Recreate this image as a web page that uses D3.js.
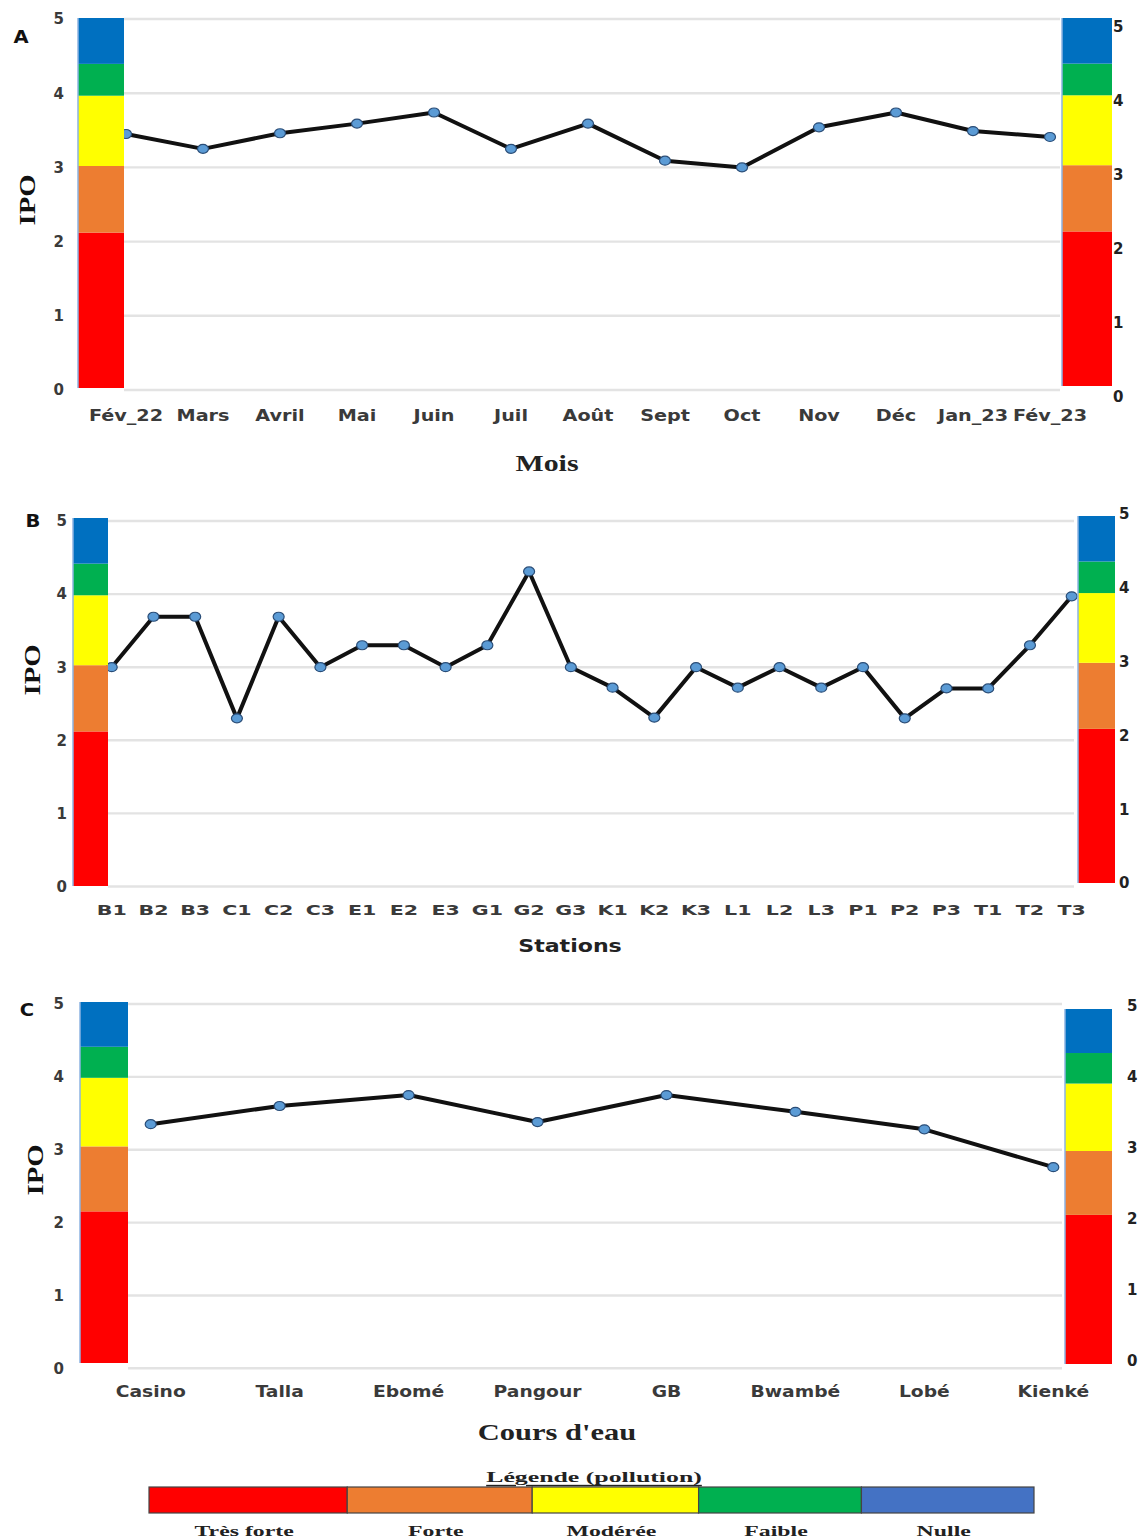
<!DOCTYPE html>
<html>
<head>
<meta charset="utf-8">
<script src="https://cdn.jsdelivr.net/npm/d3@7"></script>
<style>
  html, body { margin: 0; padding: 0; background: #fff; }
  svg { display: block; }
</style>
</head>
<body>
<svg id="chart" width="1142" height="1539"></svg>
<script>
// ---------- DATA ----------
const monthsA = ["Fév_22", "Mars", "Avril", "Mai", "Juin", "Juil", "Août", "Sept", "Oct", "Nov", "Déc", "Jan_23", "Fév_23"];
const ipoA = [3.45, 3.25, 3.46, 3.59, 3.74, 3.25, 3.59, 3.09, 3.0, 3.54, 3.74, 3.49, 3.41];

const stationsB = ["B1", "B2", "B3", "C1", "C2", "C3", "E1", "E2", "E3", "G1", "G2", "G3",
                   "K1", "K2", "K3", "L1", "L2", "L3", "P1", "P2", "P3", "T1", "T2", "T3"];
const ipoB = [3.0, 3.69, 3.69, 2.3, 3.69, 3.0, 3.3, 3.3, 3.0, 3.3, 4.31, 3.0,
              2.72, 2.31, 3.0, 2.72, 3.0, 2.72, 3.0, 2.3, 2.71, 2.71, 3.3, 3.97];

const riversC = ["Casino", "Talla", "Ebomé", "Pangour", "GB", "Bwambé", "Lobé", "Kienké"];
const ipoC = [3.35, 3.6, 3.75, 3.38, 3.75, 3.52, 3.28, 2.76];

const yTicks = [0, 1, 2, 3, 4, 5];
const classBreaks = [0, 2.1, 3.0, 3.95, 4.38, 5];
const classColors = ["#ff0000", "#ed7d31", "#ffff00", "#00b050", "#0070c0"];

const legendTitle = "Légende (pollution)";
const legendLabels = ["Très forte", "Forte", "Modérée", "Faible", "Nulle"];
const legendColors = ["#ff0000", "#ed7d31", "#ffff00", "#00b050", "#4472c4"];

// ---------- DRAW ----------
const svg = d3.select("#chart");
const SANS = "'DejaVu Sans', Verdana, sans-serif";
const SERIF = "'Liberation Serif', 'Times New Roman', serif";

function stretchText(g, str, x, y, opts) {
  const o = Object.assign({sx: 1, size: 15, family: SANS, weight: "bold", anchor: "middle", fill: "#000", rotate: 0, deco: null}, opts);
  const t = g.append("text")
    .attr("transform", `translate(${x},${y}) rotate(${o.rotate}) scale(${o.sx},1)`)
    .attr("text-anchor", o.anchor)
    .attr("dominant-baseline", "central")
    .style("font-family", o.family)
    .style("font-weight", o.weight)
    .style("font-size", o.size + "px")
    .attr("fill", o.fill)
    .text(str);
  if (o.deco) t.style("text-decoration", o.deco);
  return t;
}

const bands = d3.pairs(classBreaks).map((p, i) => ({lo: p[0], hi: p[1], color: classColors[i]}));

const panels = [
  {
    letter: "A", cats: monthsA, vals: ipoA, title: "Mois", titleFont: SERIF, titleSize: 23, titleSx: 1.3, titleY: 463, titleX: 547,
    y: [390, 19], xr: [126, 1050], gridX: [124, 1060],
    lbar: [78, 124], lbarY: [388, 18], rbar: [1062, 1112], rbarY: [386, 18], rlab: [397, 27], rlabX: 1113,
    llabX: 64, tickY: 416, tickSize: 16, tickSx: 1.2, letterXY: [21, 37], ipoXY: [27, 200]
  },
  {
    letter: "B", cats: stationsB, vals: ipoB, title: "Stations", titleFont: SANS, titleSize: 17, titleSx: 1.3, titleY: 946, titleX: 570,
    y: [886.5, 521], xr: [111.7, 1071.7], gridX: [108, 1074],
    lbar: [73, 108], lbarY: [886, 518], rbar: [1078, 1115], rbarY: [883, 516], rlab: [883, 514], rlabX: 1119,
    llabX: 67, tickY: 910, tickSize: 14.5, tickSx: 1.42, letterXY: [33, 521], ipoXY: [32, 670]
  },
  {
    letter: "C", cats: riversC, vals: ipoC, title: "Cours d'eau", titleFont: SERIF, titleSize: 24, titleSx: 1.27, titleY: 1432, titleX: 557,
    y: [1368.3, 1004], xr: [150.7, 1053.3], gridX: [128, 1062],
    lbar: [80, 128], lbarY: [1363, 1002], rbar: [1065, 1112], rbarY: [1364, 1009], rlab: [1361, 1006], rlabX: 1127,
    llabX: 64, tickY: 1391, tickSize: 16, tickSx: 1.17, letterXY: [27, 1010], ipoXY: [35, 1170]
  }
];

panels.forEach(p => {
  const g = svg.append("g");
  const y = d3.scaleLinear().domain([0, 5]).range(p.y);
  const x = d3.scalePoint().domain(p.cats).range(p.xr);
  const yL = d3.scaleLinear().domain([0, 5]).range(p.lbarY);
  const yR = d3.scaleLinear().domain([0, 5]).range(p.rbarY);
  const yRL = d3.scaleLinear().domain([0, 5]).range(p.rlab);

  // gridlines
  g.append("g").selectAll("line").data(yTicks).join("line")
    .attr("x1", p.gridX[0]).attr("x2", p.gridX[1])
    .attr("y1", d => y(d)).attr("y2", d => y(d))
    .attr("stroke", "#e3e3e3").attr("stroke-width", 2.4);

  // left axis labels
  const lAxis = d3.axisLeft(y).tickValues(yTicks).tickSize(0).tickPadding(0).tickFormat(d3.format("d"));
  const la = g.append("g").attr("transform", `translate(${p.llabX},0)`).call(lAxis);
  la.select(".domain").remove();
  la.selectAll("text").style("font-family", SANS).style("font-weight", "bold")
    .style("font-size", "15px").attr("fill", "#3a3a3a").attr("dy", "0.32em").attr("x", 0);

  // line + markers
  const line = d3.line().x((d, i) => x(p.cats[i])).y(d => y(d));
  g.append("path").datum(p.vals).attr("d", line)
    .attr("fill", "none").attr("stroke", "#111").attr("stroke-width", 4).attr("stroke-linejoin", "round");
  g.append("g").selectAll("ellipse").data(p.vals).join("ellipse")
    .attr("cx", (d, i) => x(p.cats[i])).attr("cy", d => y(d))
    .attr("rx", 5.5).attr("ry", 4.5)
    .attr("fill", "#5b9bd5").attr("stroke", "#2a4d77").attr("stroke-width", 1.2);

  // colored class bars
  [[p.lbar, yL], [p.rbar, yR]].forEach(([bx, ys]) => {
    const bg = g.append("g");
    bg.selectAll("rect").data(bands).join("rect")
      .attr("x", bx[0]).attr("width", bx[1] - bx[0])
      .attr("y", d => ys(d.hi)).attr("height", d => ys(d.lo) - ys(d.hi))
      .attr("fill", d => d.color);
    bg.append("line").attr("x1", bx[0]).attr("x2", bx[0])
      .attr("y1", ys(5)).attr("y2", ys(0))
      .attr("stroke", "#8db3e2").attr("stroke-width", 1.5);
  });

  // right axis labels
  const rAxis = d3.axisRight(yRL).tickValues(yTicks).tickSize(0).tickPadding(0).tickFormat(d3.format("d"));
  const ra = g.append("g").attr("transform", `translate(${p.rlabX},0)`).call(rAxis);
  ra.select(".domain").remove();
  ra.selectAll("text").style("font-family", SANS).style("font-weight", "bold")
    .style("font-size", "15px").attr("fill", "#222").attr("dy", "0.32em").attr("x", 0);

  // x tick labels
  p.cats.forEach(c => {
    stretchText(g, c, x(c), p.tickY, {size: p.tickSize, sx: p.tickSx, fill: "#3a3a3a"});
  });

  // axis title
  stretchText(g, p.title, p.titleX, p.titleY, {family: p.titleFont, size: p.titleSize, sx: p.titleSx, fill: "#222"});

  // IPO label
  stretchText(g, "IPO", p.ipoXY[0], p.ipoXY[1], {family: SERIF, size: 23, sx: 1.25, rotate: -90, fill: "#111"});

  // panel letter
  stretchText(g, p.letter, p.letterXY[0], p.letterXY[1], {size: 17, sx: 1.15, fill: "#111"});
});

// ---------- LEGEND ----------
const lg = svg.append("g");
const legendFrac = [0, 0.224, 0.433, 0.621, 0.805, 1];
const lx = d3.scaleLinear().domain([0, 1]).range([149, 1034]);
const segs = legendLabels.map((l, i) => ({label: l, color: legendColors[i], a: legendFrac[i], b: legendFrac[i + 1]}));
lg.selectAll("rect").data(segs).join("rect")
  .attr("x", d => lx(d.a)).attr("width", d => lx(d.b) - lx(d.a))
  .attr("y", 1487).attr("height", 26)
  .attr("fill", d => d.color).attr("stroke", "#444").attr("stroke-width", 1.2);
stretchText(lg, legendTitle, 594, 1477, {family: SERIF, size: 15, sx: 1.72, fill: "#222", deco: "underline"});
segs.forEach(d => {
  stretchText(lg, d.label, (lx(d.a) + lx(d.b)) / 2 - 4, 1531, {family: SERIF, size: 14, sx: 1.7, fill: "#222"});
});
</script>
</body>
</html>
